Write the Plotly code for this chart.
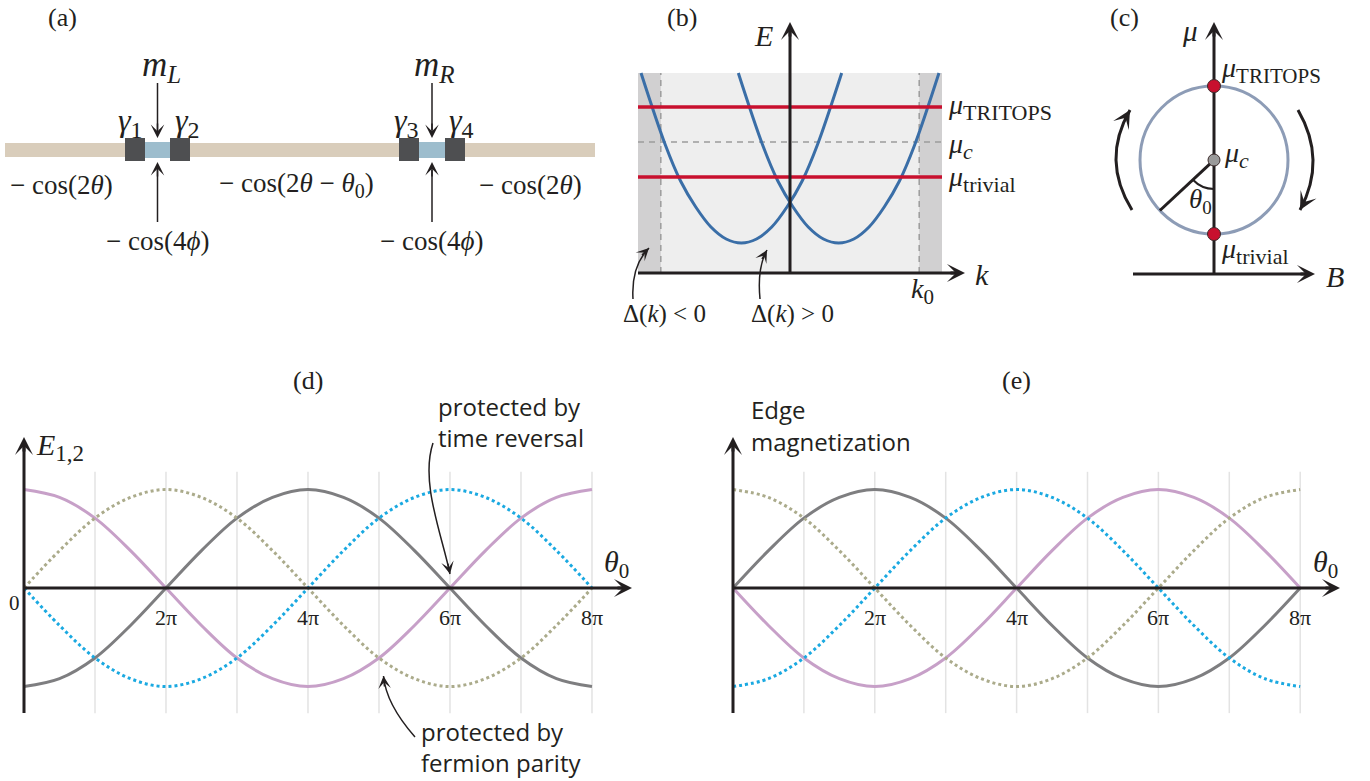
import math
import plotly.graph_objects as go

W, H = 1370, 781
INK = "#231f20"
SERIF = "Liberation Serif"
SANS = "Open Sans"

# ---------------- data: panels (d) and (e) ----------------
theta_pi = [0, 0.5, 1, 1.5, 2, 2.5, 3, 3.5, 4, 4.5, 5, 5.5, 6, 6.5, 7, 7.5, 8]
d_pink = [1.00, 0.92, 0.71, 0.38, 0.00, -0.38, -0.71, -0.92, -1.00, -0.92, -0.71, -0.38, 0.00, 0.38, 0.71, 0.92, 1.00]
d_gray = [-1.00, -0.92, -0.71, -0.38, 0.00, 0.38, 0.71, 0.92, 1.00, 0.92, 0.71, 0.38, 0.00, -0.38, -0.71, -0.92, -1.00]
d_olive = [0.00, 0.38, 0.71, 0.92, 1.00, 0.92, 0.71, 0.38, 0.00, -0.38, -0.71, -0.92, -1.00, -0.92, -0.71, -0.38, 0.00]
d_blue = [0.00, -0.38, -0.71, -0.92, -1.00, -0.92, -0.71, -0.38, 0.00, 0.38, 0.71, 0.92, 1.00, 0.92, 0.71, 0.38, 0.00]
e_gray = [0.00, 0.38, 0.71, 0.92, 1.00, 0.92, 0.71, 0.38, 0.00, -0.38, -0.71, -0.92, -1.00, -0.92, -0.71, -0.38, 0.00]
e_pink = [0.00, -0.38, -0.71, -0.92, -1.00, -0.92, -0.71, -0.38, 0.00, 0.38, 0.71, 0.92, 1.00, 0.92, 0.71, 0.38, 0.00]
e_olive = [1.00, 0.92, 0.71, 0.38, 0.00, -0.38, -0.71, -0.92, -1.00, -0.92, -0.71, -0.38, 0.00, 0.38, 0.71, 0.92, 1.00]
e_blue = [-1.00, -0.92, -0.71, -0.38, 0.00, 0.38, 0.71, 0.92, 1.00, 0.92, 0.71, 0.38, 0.00, -0.38, -0.71, -0.92, -1.00]
grid_theta = [1, 2, 3, 4, 5, 6, 7, 8]
grid_E = [-1.27, 1.18]
tick_theta = [2, 4, 6, 8]
tick_labels = ["2π", "4π", "6π", "8π"]

# ---------------- data: panel (b) ----------------
k_left = [-0.98, -0.82, -0.72, -0.62, -0.52, -0.42, -0.32, -0.22, -0.12, -0.02, 0.08, 0.18, 0.34]
E_left = [1.00, 0.64, 0.46, 0.33, 0.23, 0.17, 0.15, 0.17, 0.23, 0.33, 0.46, 0.64, 1.00]
k_right = [-0.34, -0.18, -0.08, 0.02, 0.12, 0.22, 0.32, 0.42, 0.52, 0.62, 0.72, 0.82, 0.98]
E_right = [1.00, 0.64, 0.46, 0.33, 0.23, 0.17, 0.15, 0.17, 0.23, 0.33, 0.46, 0.64, 1.00]
k_window = [-1.0, 1.0]
E_window = [0.0, 1.0]
k0 = 0.85
mu_names = ["TRITOPS", "c", "trivial"]
mu_values = [0.83, 0.655, 0.48]

# ---------------- data: panel (c) ----------------
mu_c = 1.54
circle_r = 1.0
theta0_deg = 47
dot_mu = [2.54, 1.54, 0.54]
dot_colors = ["#c8102e", "#9a9a9a", "#c8102e"]
dot_sizes = [13, 12, 13]

# ---------------- colours ----------------
PINK = "#c7a0c8"
GRAY = "#7e7e80"
OLIVE = "#abab8b"
CYAN = "#1aa9e1"
BANDBLUE = "#3a6ea7"
RED = "#c8102e"

# ---------------- panel geometry ----------------
PANELS = {
    "d": dict(xa="x", ya="y", px=(0, 660), py=(360, 781), xr=(-0.338, 8.958), yr=(-1.959, 2.315)),
    "e": dict(xa="x2", ya="y2", px=(680, 1370), py=(360, 781), xr=(-0.7475, 8.9845), yr=(-1.959, 2.315)),
    "b": dict(xa="x3", ya="y3", px=(600, 1080), py=(0, 330), xr=(-1.25, 1.9079), yr=(-0.285, 1.365)),
    "c": dict(xa="x4", ya="y4", px=(1080, 1370), py=(0, 300), xr=(-1.8108, 2.1081), yr=(-0.3514, 3.7027)),
    "a": dict(xa="x5", ya="y5", px=(0, 600), py=(0, 270), xr=(0, 600), yr=(270, 0)),
}


def P(p, px, py):
    c = PANELS[p]
    x = c["xr"][0] + (px - c["px"][0]) / (c["px"][1] - c["px"][0]) * (c["xr"][1] - c["xr"][0])
    y = c["yr"][1] - (py - c["py"][0]) / (c["py"][1] - c["py"][0]) * (c["yr"][1] - c["yr"][0])
    return x, y


fig = go.Figure()
annotations = []
shapes = []


def sub(s, size):
    return "<sub><span style='font-size:%dpx'>%s</span></sub>" % (size, s)


def text(p, px, py, s, size, family=SERIF, xanchor="center", yanchor="middle", color=INK):
    x, y = P(p, px, py)
    annotations.append(dict(x=x, y=y, xref=PANELS[p]["xa"], yref=PANELS[p]["ya"], text=s,
                            showarrow=False, xanchor=xanchor, yanchor=yanchor,
                            font=dict(family=family, size=size, color=color)))


def text_data(p, x, y, s, size, family=SERIF, xanchor="center", yanchor="middle", color=INK):
    annotations.append(dict(x=x, y=y, xref=PANELS[p]["xa"], yref=PANELS[p]["ya"], text=s,
                            showarrow=False, xanchor=xanchor, yanchor=yanchor,
                            font=dict(family=family, size=size, color=color)))


def head(p, tip, frm, width, size, back=16, color=INK):
    dx, dy = tip[0] - frm[0], tip[1] - frm[1]
    L = math.hypot(dx, dy)
    tail = (tip[0] - dx / L * back, tip[1] - dy / L * back)
    x, y = P(p, *tip)
    ax, ay = P(p, *tail)
    xa, ya = PANELS[p]["xa"], PANELS[p]["ya"]
    annotations.append(dict(x=x, y=y, ax=ax, ay=ay, xref=xa, yref=ya, axref=xa, ayref=ya,
                            text="", showarrow=True, arrowhead=3, arrowsize=size,
                            arrowwidth=width, arrowcolor=color, standoff=0))


def seg(p, a, b, width, color=INK, dash=None, layer="above"):
    x0, y0 = P(p, *a)
    x1, y1 = P(p, *b)
    ln = dict(color=color, width=width)
    if dash:
        ln["dash"] = dash
    shapes.append(dict(type="line", xref=PANELS[p]["xa"], yref=PANELS[p]["ya"],
                       x0=x0, y0=y0, x1=x1, y1=y1, line=ln, layer=layer))


def axis_arrow(p, tail, tip, width=3, size=1.0):
    dx, dy = tip[0] - tail[0], tip[1] - tail[1]
    L = math.hypot(dx, dy)
    end = (tip[0] - dx / L * 8, tip[1] - dy / L * 8)
    seg(p, tail, end, width, layer="below" if p == "c" else "above")
    head(p, tip, tail, width, size)


def curve(p, pts, cmd, width, color=INK, hsize=1.4):
    xy = [P(p, *q) for q in pts]
    if cmd == "Q":
        path = "M {},{} Q {},{} {},{}".format(*[v for q in xy for v in q])
    else:
        path = "M {},{} C {},{} {},{} {},{}".format(*[v for q in xy for v in q])
    shapes.append(dict(type="path", xref=PANELS[p]["xa"], yref=PANELS[p]["ya"], path=path,
                       line=dict(color=color, width=width)))
    head(p, pts[-1], pts[-2], width, hsize, back=12)


def rect(p, a, b, fill, layer="above"):
    x0, y0 = P(p, *a)
    x1, y1 = P(p, *b)
    shapes.append(dict(type="rect", xref=PANELS[p]["xa"], yref=PANELS[p]["ya"], x0=x0, y0=y0,
                       x1=x1, y1=y1, fillcolor=fill, line=dict(width=0), layer=layer))


# =============== panels (d) and (e): curves ===============
for g in grid_theta:
    for xa, ya in (("x", "y"), ("x2", "y2")):
        shapes.append(dict(type="line", xref=xa, yref=ya, x0=g, x1=g, y0=grid_E[0], y1=grid_E[1],
                           line=dict(color="#e3e3e3", width=1.5), layer="below"))

for ys, col, dash in [(d_pink, PINK, None), (d_gray, GRAY, None), (d_olive, OLIVE, "dot"), (d_blue, CYAN, "dot")]:
    ln = dict(color=col, width=3, shape="spline", smoothing=1.0)
    if dash:
        ln["dash"] = dash
    fig.add_trace(go.Scatter(x=theta_pi, y=ys, mode="lines", line=ln, xaxis="x", yaxis="y",
                             showlegend=False, hoverinfo="skip"))

for ys, col, dash in [(e_gray, GRAY, None), (e_pink, PINK, None), (e_olive, OLIVE, "dot"), (e_blue, CYAN, "dot")]:
    ln = dict(color=col, width=3, shape="spline", smoothing=1.0)
    if dash:
        ln["dash"] = dash
    fig.add_trace(go.Scatter(x=theta_pi, y=ys, mode="lines", line=ln, xaxis="x2", yaxis="y2",
                             showlegend=False, hoverinfo="skip"))

# axes (d)
axis_arrow("d", (24, 713), (24, 437))
axis_arrow("d", (24, 588), (632, 588))
text("d", 308, 380, "(d)", 26)
text("d", 34, 447, "<i>E</i>" + sub("1,2", 23), 30, xanchor="left")
text("d", 616, 564, "<i>θ</i>" + sub("0", 21), 30)
text("d", 14, 603, "0", 21)
for t, lab in zip(tick_theta, tick_labels):
    text_data("d", t, P("d", 0, 617)[1], lab, 22)
text("d", 436, 406, "protected by", 24, family=SANS, xanchor="left")
text("d", 436, 437, "time reversal", 24, family=SANS, xanchor="left")
text("d", 419, 731, "protected by", 24, family=SANS, xanchor="left")
text("d", 419, 762, "fermion parity", 24, family=SANS, xanchor="left")
curve("d", [(433, 443), (420, 482), (442, 535), (450, 574)], "C", 1.5)
curve("d", [(415, 737), (386, 704), (383.5, 676)], "Q", 1.5)

# axes (e)
axis_arrow("e", (733, 713), (733, 437))
axis_arrow("e", (733, 588), (1340, 588))
text("e", 1016, 380, "(e)", 26)
text("e", 749, 409, "Edge", 24, family=SANS, xanchor="left")
text("e", 749, 441, "magnetization", 24, family=SANS, xanchor="left")
text("e", 1325, 564, "<i>θ</i>" + sub("0", 21), 30)
for t, lab in zip(tick_theta, tick_labels):
    text_data("e", t, P("e", 0, 617)[1], lab, 22)

# =============== panel (b) ===============
shapes.append(dict(type="rect", xref="x3", yref="y3", x0=k_window[0], x1=k_window[1], y0=E_window[0],
                   y1=E_window[1], fillcolor="#eeeeee", line=dict(width=0), layer="below"))
shapes.append(dict(type="rect", xref="x3", yref="y3", x0=k_window[0], x1=-k0, y0=E_window[0],
                   y1=E_window[1], fillcolor="#d1d0d1", line=dict(width=0), layer="below"))
shapes.append(dict(type="rect", xref="x3", yref="y3", x0=k0, x1=k_window[1], y0=E_window[0],
                   y1=E_window[1], fillcolor="#d1d0d1", line=dict(width=0), layer="below"))
for kk in (-k0, k0):
    shapes.append(dict(type="line", xref="x3", yref="y3", x0=kk, x1=kk, y0=E_window[0], y1=E_window[1],
                       line=dict(color="#9c9c9c", width=1.5, dash="6px,5px"), layer="below"))
shapes.append(dict(type="line", xref="x3", yref="y3", x0=k_window[0], x1=k_window[1], y0=mu_values[1],
                   y1=mu_values[1], line=dict(color="#9c9c9c", width=1.5, dash="6px,5px"), layer="below"))

for kx, ey in [(k_left, E_left), (k_right, E_right)]:
    fig.add_trace(go.Scatter(x=kx, y=ey, mode="lines",
                             line=dict(color=BANDBLUE, width=3, shape="spline", smoothing=1.0),
                             xaxis="x3", yaxis="y3", showlegend=False, hoverinfo="skip"))
for mv in (mu_values[0], mu_values[2]):
    fig.add_trace(go.Scatter(x=k_window, y=[mv, mv], mode="lines", line=dict(color=RED, width=3.5),
                             xaxis="x3", yaxis="y3", showlegend=False, hoverinfo="skip"))

axis_arrow("b", (790, 273), (790, 22))
axis_arrow("b", (638, 273), (965, 273))
text("b", 682, 17, "(b)", 26)
text("b", 763, 35, "<i>E</i>", 30)
text("b", 982, 274, "<i>k</i>", 30)
text("b", 922, 291, "<i>k</i>" + sub("0", 21), 28)
for name, mv in zip(mu_names, mu_values):
    lab = "<i>μ</i>" + (sub("<i>c</i>", 22) if name == "c" else sub(name, 22))
    off = {"TRITOPS": 0.0, "c": -0.02, "trivial": -0.01}[name]
    text_data("b", P("b", 946, 0)[0], mv + off, lab, 28, xanchor="left")
text("b", 664, 314, "Δ(<i>k</i>)&nbsp;&lt;&nbsp;0", 25)
text("b", 792, 314, "Δ(<i>k</i>)&nbsp;&gt;&nbsp;0", 25)
curve("b", [(633, 299), (631, 266), (649, 248)], "Q", 1.5)
curve("b", [(760, 299), (757, 268), (767, 250)], "Q", 1.5)

# =============== panel (c) ===============
shapes.append(dict(type="circle", xref="x4", yref="y4", x0=-circle_r, x1=circle_r, y0=mu_c - circle_r,
                   y1=mu_c + circle_r, line=dict(color="#8d9cb6", width=3), layer="below"))
th = math.radians(theta0_deg)
shapes.append(dict(type="line", xref="x4", yref="y4", x0=0, y0=mu_c, x1=-circle_r * math.sin(th),
                   y1=mu_c - circle_r * math.cos(th), line=dict(color=INK, width=3), layer="below"))
axis_arrow("c", (1214, 274), (1214, 22))
axis_arrow("c", (1133, 274), (1315, 274))
# angle arc
ax0, ay0 = 0, mu_c - 0.39
ax1, ay1 = -0.39 * math.sin(th), mu_c - 0.39 * math.cos(th)
cx, cy = -0.425 * math.sin(th / 2), mu_c - 0.425 * math.cos(th / 2)
shapes.append(dict(type="path", xref="x4", yref="y4",
                   path="M {},{} Q {},{} {},{}".format(ax0, ay0, cx, cy, ax1, ay1),
                   line=dict(color=INK, width=2), layer="below"))
fig.add_trace(go.Scatter(x=[0, 0, 0], y=dot_mu, mode="markers",
                         marker=dict(size=dot_sizes, color=dot_colors, opacity=1,
                                     line=dict(color="#3b2a2a", width=1)),
                         xaxis="x4", yaxis="y4", showlegend=False, hoverinfo="skip"))
curve("c", [(1132, 210), (1101, 160), (1130, 110)], "Q", 3, hsize=1.0)
curve("c", [(1298, 110), (1327, 160), (1300, 210)], "Q", 3, hsize=1.0)
text("c", 1124, 17, "(c)", 26)
text("c", 1190, 31, "<i>μ</i>", 29)
text("c", 1335, 276, "<i>B</i>", 30)
text("c", 1219, 70, "<i>μ</i>" + sub("TRITOPS", 21), 28, xanchor="left")
text("c", 1222, 155, "<i>μ</i>" + sub("<i>c</i>", 22), 28, xanchor="left")
text("c", 1219, 251, "<i>μ</i>" + sub("trivial", 22), 28, xanchor="left")
text("c", 1200, 201, "<i>θ</i>" + sub("0", 19), 27)

# =============== panel (a) ===============
rect("a", (5, 143), (595, 157), "#d9cdbb")
for x0, x1 in [(125, 145), (170, 190), (399, 419), (445, 465)]:
    rect("a", (x0, 138), (x1, 161), "#4e4f51")
for x0, x1 in [(145, 170), (419, 445)]:
    rect("a", (x0, 142), (x1, 158), "#9dbdcd")
for xc in (157.5, 432):
    seg("a", (xc, 83), (xc, 130), 1.5)
    head("a", (xc, 138), (xc, 83), 1.5, 1.5)
    seg("a", (xc, 222), (xc, 170), 1.5)
    head("a", (xc, 162), (xc, 222), 1.5, 1.5)
text("a", 62, 17, "(a)", 26)
text("a", 161, 66, "<i>m</i>" + sub("<i>L</i>", 25), 35)
text("a", 434, 66, "<i>m</i>" + sub("<i>R</i>", 25), 35)
text("a", 130, 122, "<i>γ</i>" + sub("1", 24), 32)
text("a", 187, 122, "<i>γ</i>" + sub("2", 24), 32)
text("a", 406, 122, "<i>γ</i>" + sub("3", 24), 32)
text("a", 461, 122, "<i>γ</i>" + sub("4", 24), 32)
text("a", 61, 185, "−&nbsp;cos(2<i>θ</i>)", 27)
text("a", 296, 185, "−&nbsp;cos(2<i>θ</i>&nbsp;−&nbsp;<i>θ</i>" + sub("0", 20) + ")", 27)
text("a", 530, 185, "−&nbsp;cos(2<i>θ</i>)", 27)
text("a", 157, 241, "−&nbsp;cos(4<i>ϕ</i>)", 27)
text("a", 431, 241, "−&nbsp;cos(4<i>ϕ</i>)", 27)

# ---------------- layout ----------------
layout = dict(width=W, height=H, margin=dict(l=0, r=0, t=0, b=0, pad=0), autosize=False,
              paper_bgcolor="white", plot_bgcolor="rgba(0,0,0,0)", showlegend=False,
              annotations=annotations, shapes=shapes)
for p, c in PANELS.items():
    xk = "xaxis" + c["xa"][1:]
    yk = "yaxis" + c["ya"][1:]
    layout[xk] = dict(domain=[c["px"][0] / W, c["px"][1] / W], range=list(c["xr"]), anchor=c["ya"],
                      visible=False, fixedrange=True)
    layout[yk] = dict(domain=[1 - c["py"][1] / H, 1 - c["py"][0] / H], range=list(c["yr"]), anchor=c["xa"],
                      visible=False, fixedrange=True)
fig.update_layout(**layout)
fig.write_html("out.html", config={"displayModeBar": False},
               post_script="document.body.style.margin='0px';document.body.style.overflow='hidden';")
